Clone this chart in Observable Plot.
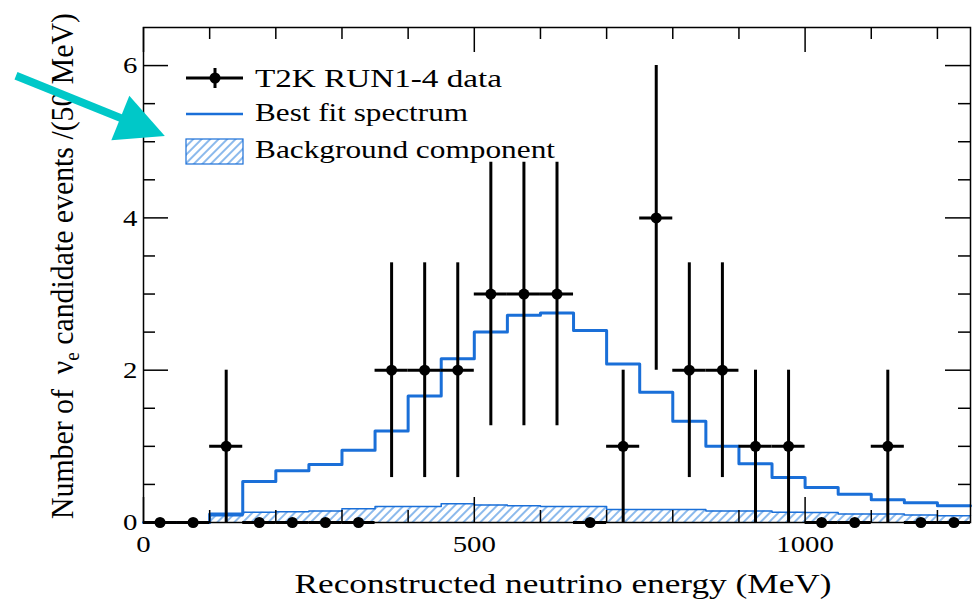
<!DOCTYPE html>
<html><head><meta charset="utf-8">
<script src="https://cdn.jsdelivr.net/npm/d3@7"></script>
<script src="https://cdn.jsdelivr.net/npm/@observablehq/plot@0.6"></script>
<style>body{margin:0;background:#fff;} #chart{width:978px;height:603px;}</style>
</head><body><div id="chart"></div>
<script>
// ---- data ----
const binLow = [0,50,100,150,200,250,300,350,400,450,500,550,600,650,700,750,800,850,900,950,1000,1050,1100,1150,1200];
const binWidth = 50;
const xMax = 1250;
const dataCounts = [0,0,1,0,0,0,0,2,2,2,3,3,3,0,1,4,2,2,1,1,0,0,1,0,0];
const dataErrors = [0,0,1,0,0,0,0,1.41,1.41,1.41,1.73,1.73,1.73,0,1,2,1.41,1.41,1,1,0,0,1,0,0];
const bestFit = [0,0,0.11,0.54,0.68,0.76,0.95,1.20,1.66,2.15,2.50,2.72,2.75,2.52,2.08,1.71,1.33,1.00,0.77,0.59,0.46,0.37,0.30,0.26,0.22];
const background = [0,0,0.09,0.135,0.14,0.15,0.18,0.21,0.21,0.245,0.23,0.22,0.21,0.21,0.17,0.17,0.17,0.15,0.15,0.135,0.13,0.11,0.11,0.10,0.09];
const xTickLabels = [0,500,1000];
const xMinorTicks = [100,200,300,400,600,700,800,900,1100,1200];
const yTickLabels = [0,2,4,6];
const yMinorTicks = [0.5,1,1.5,2.5,3,3.5,4.5,5,5.5];
const legendLabels = ["T2K RUN1-4 data","Best fit spectrum","Background component"];
const xTitle = "Reconstructed neutrino energy (MeV)";
const arrowFrom = [-192, 5.86];
const arrowTo = [33, 5.07];

// ---- styles ----
const BLUE = "#1a6fd8", HATCH = "#4f95e3", CYAN = "#00c8c8";
const W = 978, H = 603, mL = 143, mR = 8, mT = 27, mB = 81;
const pW = W - mL - mR, pH = H - mT - mB;
const FONT = "'Liberation Serif', 'Times New Roman', serif";
const STRETCH = 1.2;

const points = binLow.map((lo, i) => ({x: lo + binWidth / 2, n: dataCounts[i], e: dataErrors[i]}));
const steps = vals => [...binLow.map((x, i) => ({x, y: vals[i]})), {x: xMax, y: vals[vals.length - 1]}];
const fitSteps = steps(bestFit), bgSteps = steps(background);

const tickStyle = {stroke: "black", strokeWidth: 1.5};
const chart = Plot.plot({
  width: W, height: H, marginLeft: mL, marginRight: mR, marginTop: mT, marginBottom: mB,
  x: {domain: [0, xMax]}, y: {domain: [0, 6.5]},
  style: {fontFamily: FONT, fontSize: "24px", background: "white", color: "black"},
  marks: [
    Plot.areaY(bgSteps, {x: "x", y: "y", curve: "step-after", fill: "url(#hatch)"}),
    Plot.lineY(bgSteps, {x: "x", y: "y", curve: "step-after", stroke: BLUE, strokeWidth: 1.5}),
    Plot.lineY(fitSteps, {x: "x", y: "y", curve: "step-after", stroke: BLUE, strokeWidth: 3}),
    Plot.ruleX(points, {x: "x", y1: d => d.n - d.e, y2: d => d.n + d.e, stroke: "black", strokeWidth: 3}),
    Plot.ruleY(points, {y: "n", x1: d => d.x - binWidth / 2, x2: d => d.x + binWidth / 2, stroke: "black", strokeWidth: 3}),
    Plot.dot(points, {x: "x", y: "n", r: 5.5, fill: "black"}),
    Plot.frame({stroke: "black", strokeWidth: 1.5}),
    Plot.tickY(yTickLabels, {y: d => d, insetRight: pW - 25, ...tickStyle}),
    Plot.tickY(yMinorTicks, {y: d => d, insetRight: pW - 12, ...tickStyle}),
    Plot.tickY(yTickLabels, {y: d => d, insetLeft: pW - 25, ...tickStyle}),
    Plot.tickY(yMinorTicks, {y: d => d, insetLeft: pW - 12, ...tickStyle}),
    Plot.tickX(xTickLabels, {x: d => d, insetTop: pH - 25, ...tickStyle}),
    Plot.tickX(xMinorTicks, {x: d => d, insetTop: pH - 12, ...tickStyle}),
    Plot.tickX(xTickLabels, {x: d => d, insetBottom: pH - 25, ...tickStyle}),
    Plot.tickX(xMinorTicks, {x: d => d, insetBottom: pH - 12, ...tickStyle}),
    Plot.axisX({ticks: xTickLabels, tickSize: 0, tickPadding: 12, label: null, tickFormat: d => String(d)}),
    Plot.axisY({ticks: yTickLabels, tickSize: 0, tickPadding: 6, label: null, tickFormat: d => String(d)})
  ]
});
document.getElementById("chart").appendChild(chart);

const svg = d3.select(chart);
// hatch pattern
const pat = svg.insert("defs", ":first-child").append("pattern")
  .attr("id", "hatch").attr("patternUnits", "userSpaceOnUse")
  .attr("width", 6).attr("height", 6).attr("patternTransform", "rotate(45)");
pat.append("rect").attr("width", 6).attr("height", 6).attr("fill", "white");
pat.append("line").attr("x1", 1).attr("y1", 0).attr("x2", 1).attr("y2", 6).attr("stroke", HATCH).attr("stroke-width", 1.3);

function stretchText(sel, factor = STRETCH) {
  sel.each(function() {
    const L = this.getComputedTextLength();
    this.setAttribute("textLength", L * factor);
    this.setAttribute("lengthAdjust", "spacingAndGlyphs");
  });
  return sel;
}
// widen tick labels to match the reference's proportions
stretchText(svg.selectAll('[aria-label="x-axis tick label"] text, [aria-label="y-axis tick label"] text'));

const xs = chart.scale("x"), ys = chart.scale("y");

// x title
svg.append("text").attr("x", 563).attr("y", 593).attr("text-anchor", "middle")
  .attr("font-family", FONT).attr("font-size", 28).attr("fill", "black")
  .attr("textLength", 537).attr("lengthAdjust", "spacingAndGlyphs").text(xTitle);

// y title
const yl = svg.append("text").attr("transform", "translate(73,266) rotate(-90)")
  .attr("text-anchor", "middle").attr("font-family", FONT).attr("font-size", 31).attr("fill", "black");
yl.append("tspan").text("Number of  \u03bd");
yl.append("tspan").attr("font-size", 20).attr("dy", 6).text("e");
yl.append("tspan").attr("dy", -6).text(" candidate events /(50 MeV)");
yl.attr("textLength", 506).attr("lengthAdjust", "spacingAndGlyphs");

// legend
const lg = svg.append("g").attr("font-family", FONT).attr("font-size", 25).attr("fill", "black").attr("text-anchor", "start");
lg.append("line").attr("x1", 186).attr("x2", 243).attr("y1", 78).attr("y2", 78).attr("stroke", "black").attr("stroke-width", 3);
lg.append("line").attr("x1", 215).attr("x2", 215).attr("y1", 68).attr("y2", 88).attr("stroke", "black").attr("stroke-width", 3);
lg.append("circle").attr("cx", 215).attr("cy", 78).attr("r", 5.5).attr("fill", "black");
lg.append("line").attr("x1", 186).attr("x2", 243).attr("y1", 114).attr("y2", 114).attr("stroke", BLUE).attr("stroke-width", 2.5);
lg.append("rect").attr("x", 186).attr("y", 139).attr("width", 57).attr("height", 25).attr("fill", "url(#hatch)").attr("stroke", BLUE).attr("stroke-width", 1.2);
const baselines = [87, 121, 158];
const legendWidths = [247, 213, 300];
legendLabels.forEach((t, i) => {
  lg.append("text").attr("x", 255).attr("y", baselines[i])
    .attr("textLength", legendWidths[i]).attr("lengthAdjust", "spacingAndGlyphs").text(t);
});

// cyan annotation arrow
const p0 = [xs.apply(arrowFrom[0]), ys.apply(arrowFrom[1])];
const p1 = [xs.apply(arrowTo[0]), ys.apply(arrowTo[1])];
const dx = p1[0] - p0[0], dy = p1[1] - p0[1], len = Math.hypot(dx, dy);
const ux = dx / len, uy = dy / len, headL = 48, headW = 24;
const bx = p1[0] - ux * headL, by = p1[1] - uy * headL;
svg.append("line").attr("x1", p0[0]).attr("y1", p0[1]).attr("x2", bx + ux * 4).attr("y2", by + uy * 4)
  .attr("stroke", CYAN).attr("stroke-width", 8);
svg.append("polygon").attr("fill", CYAN)
  .attr("points", [[p1[0], p1[1]], [bx - uy * headW, by + ux * headW], [bx + uy * headW, by - ux * headW]].map(p => p.join(",")).join(" "));
</script>
</body></html>
